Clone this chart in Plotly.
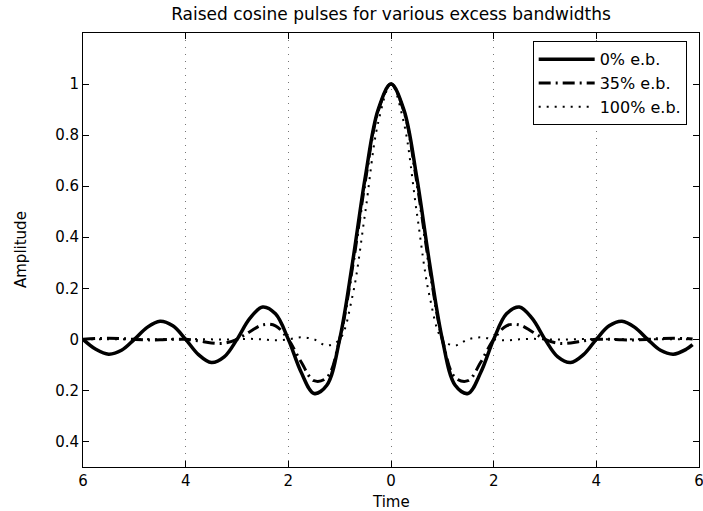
import plotly.graph_objects as go

# time axis (seconds normalised to symbol period)
time = [-6, -5.75, -5.5, -5.25, -5, -4.75, -4.5, -4.25, -4, -3.75, -3.5, -3.25,
        -3, -2.75, -2.5, -2.25, -2, -1.75, -1.5, -1.25, -1, -0.75, -0.5, -0.25,
        0, 0.25, 0.5, 0.75, 1, 1.25, 1.5, 1.75, 2, 2.25, 2.5, 2.75,
        3, 3.25, 3.5, 3.75, 4, 4.25, 4.5, 4.75, 5, 5.25, 5.5, 5.75, 5.875]

# amplitudes
eb_0 = [0, -0.039, -0.058, -0.043, 0, 0.047, 0.071, 0.053, 0, -0.060, -0.091, -0.069,
        0, 0.082, 0.127, 0.100, 0, -0.129, -0.212, -0.180, 0, 0.300, 0.637, 0.900,
        1, 0.900, 0.637, 0.300, 0, -0.180, -0.212, -0.129, 0, 0.100, 0.127, 0.082,
        0, -0.069, -0.091, -0.060, 0, 0.053, 0.071, 0.047, 0, -0.043, -0.058, -0.039, -0.021]

eb_35 = [0, 0.003, 0.004, 0.003, 0, -0.002, -0.002, 0, 0, -0.006, -0.014, -0.015,
         0, 0.030, 0.057, 0.053, 0, -0.089, -0.162, -0.150, 0, 0.281, 0.619, 0.894,
         1, 0.894, 0.619, 0.281, 0, -0.150, -0.162, -0.089, 0, 0.053, 0.057, 0.030,
         0, -0.015, -0.014, -0.006, 0, 0, -0.002, -0.002, 0, 0.003, 0.004, 0.003, 0.001]

eb_100 = [0, 0, 0, 0, 0, 0, 0, 0, 0, 0.001, 0, -0.001,
          0, 0.002, 0, -0.004, 0, 0.008, 0, -0.024, 0, 0.170, 0.500, 0.849,
          1, 0.849, 0.500, 0.170, 0, -0.024, 0, 0.008, 0, -0.004, 0, 0.002,
          0, -0.001, 0, 0.001, 0, 0, 0, 0, 0, 0, 0, 0, 0]

x_ticks = [-6, -4, -2, 0, 2, 4, 6]
x_tick_text = ["6", "4", "2", "0", "2", "4", "6"]
y_ticks = [-0.4, -0.2, 0, 0.2, 0.4, 0.6, 0.8, 1]
y_tick_text = ["0.4", "0.2", "0", "0.2", "0.4", "0.6", "0.8", "1"]

FONT = "DejaVu Sans"

fig = go.Figure()
fig.add_trace(go.Scatter(x=time, y=eb_0, name="0% e.b.", mode="lines",
                         line=dict(color="black", width=3.5, shape="spline")))
fig.add_trace(go.Scatter(x=time, y=eb_35, name="35% e.b.", mode="lines",
                         line=dict(color="black", width=3, shape="spline",
                                   dash="12px,5px,2px,5px")))
fig.add_trace(go.Scatter(x=time, y=eb_100, name="100% e.b.", mode="lines",
                         line=dict(color="black", width=2, shape="spline",
                                   dash="2px,6px")))

axis_style = dict(showline=True, linecolor="black", linewidth=1, mirror="ticks",
                  ticks="inside", ticklen=6, tickcolor="black", zeroline=False,
                  automargin=False, ticklabeloverflow="allow",
                  tickfont=dict(family=FONT, size=15, color="black"))

fig.update_xaxes(range=[-6, 6], tickvals=x_ticks, ticktext=x_tick_text,
                 showgrid=True, gridcolor="#777", griddash="1px,6px", gridwidth=1,
                 **axis_style)
fig.update_yaxes(range=[-0.5, 1.2], tickvals=y_ticks, ticktext=y_tick_text,
                 showgrid=False, **axis_style)

fig.add_annotation(text="Time", x=0.5, y=-35 / 434, xref="paper", yref="paper",
                   xanchor="center", yanchor="middle", showarrow=False,
                   font=dict(family=FONT, size=15, color="black"))
fig.add_annotation(text="Amplitude", x=-62 / 616, y=0.5, xref="paper", yref="paper",
                   xanchor="center", yanchor="middle", textangle=-90, showarrow=False,
                   font=dict(family=FONT, size=15, color="black"))

fig.update_layout(
    width=703, height=511, autosize=False,
    margin=dict(l=83, r=4, t=33, b=44),
    paper_bgcolor="white", plot_bgcolor="white",
    title=dict(text="Raised cosine pulses for various excess bandwidths",
               font=dict(family=FONT, size=17, color="black"),
               x=0.5, xref="paper", xanchor="center",
               y=1 - 14 / 511, yref="container", yanchor="middle"),
    legend=dict(x=0.98, xanchor="right", y=0.981, yanchor="top",
                bgcolor="white", bordercolor="black", borderwidth=1,
                font=dict(family=FONT, size=16, color="black"),
                itemwidth=56, tracegroupgap=0),
    showlegend=True,
)

# drop the browser's default 8px body margin so the figure fills the window
fig.write_html("out.html", config={"displayModeBar": False},
               post_script="document.body.style.margin='0';document.body.style.overflow='hidden';")
